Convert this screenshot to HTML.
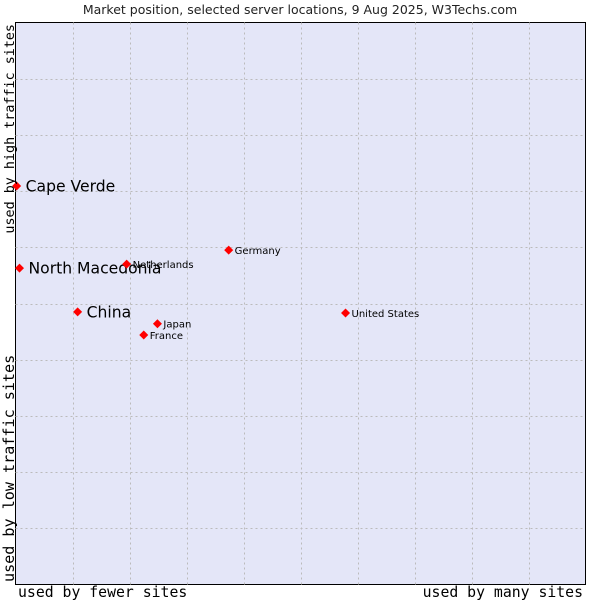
<!DOCTYPE html>
<html><head><meta charset="utf-8"><style>
body{margin:0;background:#fff;width:600px;height:600px;overflow:hidden}
svg{display:block}
</style></head><body>
<svg id="chart" width="600" height="600" xmlns="http://www.w3.org/2000/svg">
<text x="300" y="14" text-anchor="middle" font-family="'DejaVu Sans',sans-serif" font-size="12.5" fill="#222">Market position, selected server locations, 9 Aug 2025, W3Techs.com</text>
<rect x="15.5" y="22.5" width="570" height="562" fill="#e4e6f8" stroke="#000" stroke-width="1"/>
<g id="grid"></g>
<g id="points"></g>
<text x="18" y="597" font-family="'DejaVu Sans Mono','Liberation Mono',monospace" font-size="14.8" fill="#000">used by fewer sites</text>
<text x="583" y="597" text-anchor="end" font-family="'DejaVu Sans Mono','Liberation Mono',monospace" font-size="14.8" fill="#000">used by many sites</text>
<text transform="translate(14,582) rotate(-90)" font-family="'DejaVu Sans Mono','Liberation Mono',monospace" font-size="15.1" fill="#000">used by low traffic sites</text>
<text transform="translate(14,24) rotate(-90)" text-anchor="end" font-family="'DejaVu Sans Mono','Liberation Mono',monospace" font-size="13.4" fill="#000">used by high traffic sites</text>
</svg>
<script>
const names=["Cape Verde","North Macedonia","China","Netherlands","Germany","Japan","France","United States"];
const xVals=[0.2,0.7,10.9,19.5,37.4,24.9,22.5,57.9];
const yVals=[70.9,56.3,48.5,57.0,59.5,46.4,44.4,48.3];
const bigLabel=[true,true,true,false,false,false,false,false];
const NS="http://www.w3.org/2000/svg";
const X0=15.5,X1=585.5,Y0=584.5,Y1=22.5;
function sx(v){return X0+(X1-X0)*v/100;}
function sy(v){return Y0-(Y0-Y1)*v/100;}
const grid=document.getElementById('grid');
for(let i=1;i<10;i++){
  const gx=Math.round(sx(i*10))+0.5, gy=Math.round(sy(i*10))+0.5;
  const l1=document.createElementNS(NS,'line');
  l1.setAttribute('x1',gx);l1.setAttribute('x2',gx);l1.setAttribute('y1',Y1);l1.setAttribute('y2',Y0);
  l1.setAttribute('stroke','#bbb');l1.setAttribute('stroke-dasharray','2,3');
  
  
  grid.appendChild(l1);
  const l2=document.createElementNS(NS,'line');
  l2.setAttribute('y1',gy);l2.setAttribute('y2',gy);l2.setAttribute('x1',X0);l2.setAttribute('x2',X1);
  l2.setAttribute('stroke','#bbb');l2.setAttribute('stroke-dasharray','2,3');
  
  
  grid.appendChild(l2);
}
const pts=document.getElementById('points');
names.forEach((n,i)=>{
  const px=sx(xVals[i]),py=sy(yVals[i]);
  const d=document.createElementNS(NS,'path');
  d.setAttribute('d',`M${px} ${py-4.5}L${px+4.5} ${py}L${px} ${py+4.5}L${px-4.5} ${py}Z`);
  d.setAttribute('fill','#f00');
  
  
  pts.appendChild(d);
  const t=document.createElementNS(NS,'text');
  t.setAttribute('x',px+(bigLabel[i]?9:6));
  t.setAttribute('y',py+(bigLabel[i]?5.5:4));
  t.setAttribute('font-family',"'DejaVu Sans',sans-serif");
  t.setAttribute('font-size',bigLabel[i]?'15.6':'10');
  t.setAttribute('fill','#000');
  t.textContent=n;
  
  
  pts.appendChild(t);
});
</script>
</body></html>
